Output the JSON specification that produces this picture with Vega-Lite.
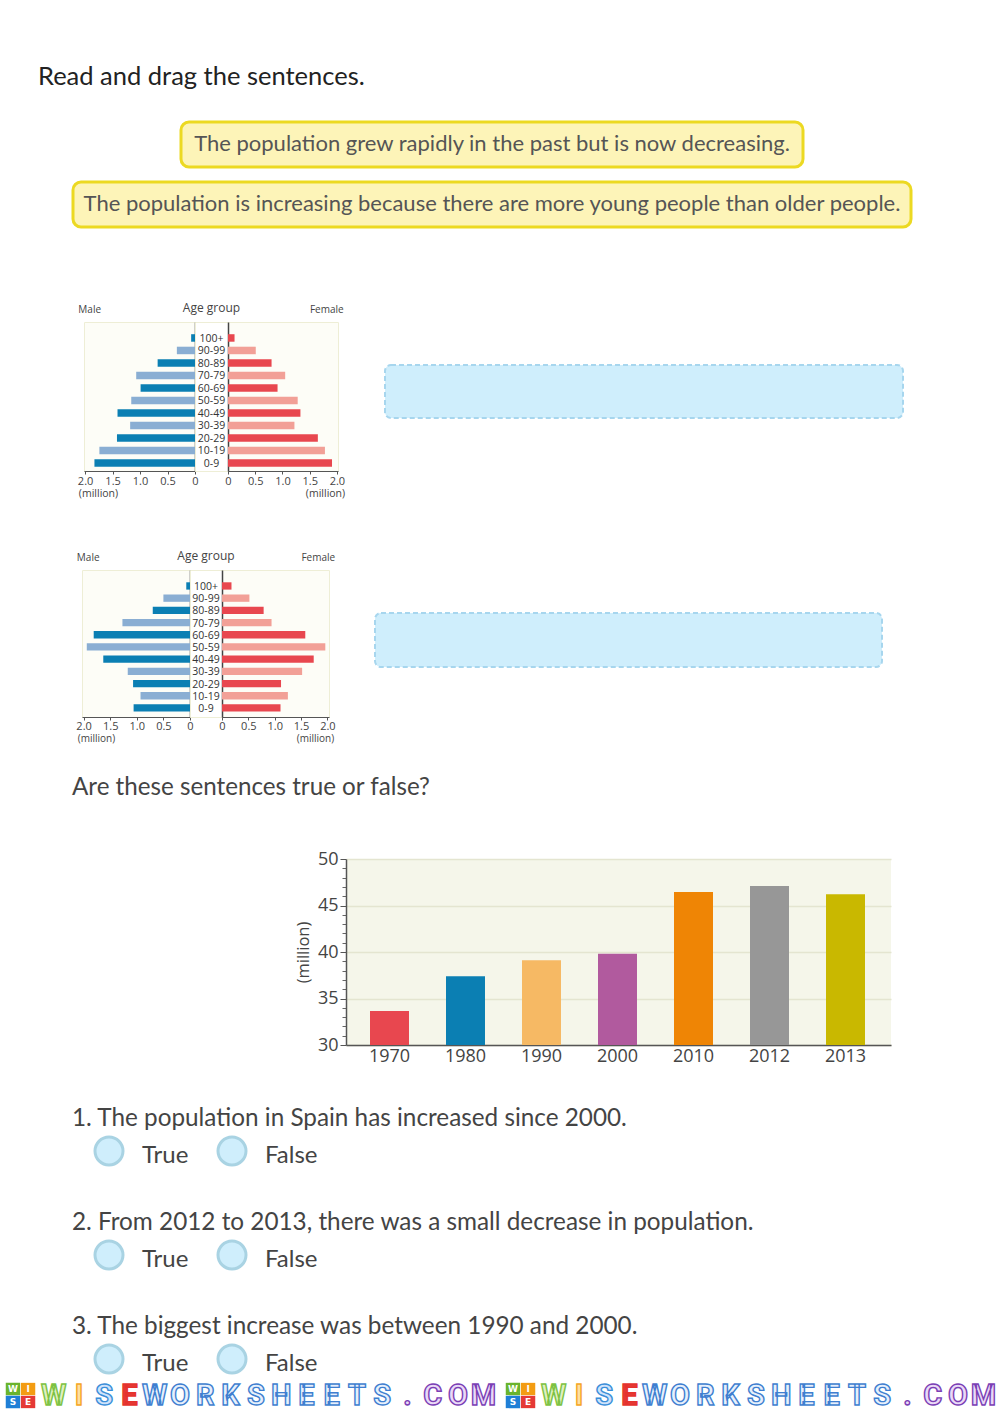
{
"$schema":"https://vega.github.io/schema/vega-lite/v6.json",
"padding":0,"background":"#ffffff","bounds":"full","spacing":0,
"config":{"view":{"stroke":null},"concat":{"spacing":0},"font":"Open Sans"},
"datasets":{
"pyr1":[
{"age":"100+","shade":"dark","male":0.07,"female":0.12},
{"age":"90-99","shade":"light","male":0.33,"female":0.51},
{"age":"80-89","shade":"dark","male":0.68,"female":0.80},
{"age":"70-79","shade":"light","male":1.07,"female":1.05},
{"age":"60-69","shade":"dark","male":0.99,"female":0.91},
{"age":"50-59","shade":"light","male":1.16,"female":1.28},
{"age":"40-49","shade":"dark","male":1.41,"female":1.33},
{"age":"30-39","shade":"light","male":1.18,"female":1.22},
{"age":"20-29","shade":"dark","male":1.42,"female":1.65},
{"age":"10-19","shade":"light","male":1.74,"female":1.78},
{"age":"0-9","shade":"dark","male":1.83,"female":1.91}],
"pyr2":[
{"age":"100+","shade":"dark","male":0.07,"female":0.18},
{"age":"90-99","shade":"light","male":0.50,"female":0.52},
{"age":"80-89","shade":"dark","male":0.70,"female":0.79},
{"age":"70-79","shade":"light","male":1.27,"female":0.94},
{"age":"60-69","shade":"dark","male":1.81,"female":1.58},
{"age":"50-59","shade":"light","male":1.94,"female":1.96},
{"age":"40-49","shade":"dark","male":1.63,"female":1.74},
{"age":"30-39","shade":"light","male":1.17,"female":1.52},
{"age":"20-29","shade":"dark","male":1.07,"female":1.12},
{"age":"10-19","shade":"light","male":0.93,"female":1.25},
{"age":"0-9","shade":"dark","male":1.06,"female":1.11}],
"spain":[
{"year":"1970","pop":33.66},{"year":"1980","pop":37.4},{"year":"1990","pop":39.1},{"year":"2000","pop":39.8},{"year":"2010","pop":46.45},{"year":"2012","pop":47.1},{"year":"2013","pop":46.2}],
"logo":[{"col":"a","row":"a","ch":"W","tone":"green"},{"col":"b","row":"a","ch":"I","tone":"orange"},{"col":"a","row":"b","ch":"S","tone":"blue"},{"col":"b","row":"b","ch":"E","tone":"red"}],
"word":[
{"pos":1,"ch":"W","tone":"green"},{"pos":2,"ch":"I","tone":"orange"},{"pos":3,"ch":"S","tone":"blue"},{"pos":4,"ch":"E","tone":"red"},
{"pos":5,"ch":"W","tone":"azure"},{"pos":6,"ch":"O","tone":"azure"},{"pos":7,"ch":"R","tone":"azure"},{"pos":8,"ch":"K","tone":"azure"},{"pos":9,"ch":"S","tone":"azure"},{"pos":10,"ch":"H","tone":"azure"},{"pos":11,"ch":"E","tone":"azure"},{"pos":12,"ch":"E","tone":"azure"},{"pos":13,"ch":"T","tone":"azure"},{"pos":14,"ch":"S","tone":"azure"},{"pos":15,"ch":".","tone":"violet"},{"pos":16,"ch":"C","tone":"violet"},{"pos":17,"ch":"O","tone":"violet"},{"pos":18,"ch":"M","tone":"violet"}]
},
"vconcat":[
{"width":10,"height":61,"data":{"values":[]},"mark":"text"},
{"hconcat":[
 {"width":38,"height":32,"data":{"values":[]},"mark":"text"},
 {"width":500,"height":32,"data":{"values":[{"t":"Read and drag the sentences."}]},"mark":{"type":"text","align":"left","font":"Lato","fontSize":25.5,"color":"#222222"},"encoding":{"text":{"field":"t"},"x":{"value":0}}}
],"bounds":"flush","spacing":0},
{"width":10,"height":27,"data":{"values":[]},"mark":"text"},
{"hconcat":[
 {"width":181,"height":46,"data":{"values":[]},"mark":"text"},
 {"width":622,"height":45,"view":{"fill":"#fdf4b8","stroke":"#ecd922","strokeWidth":3,"cornerRadius":8},"data":{"values":[{"t":"The population grew rapidly in the past but is now decreasing."}]},"mark":{"type":"text","font":"Lato","fontSize":22,"color":"#555555","dy":-1},"encoding":{"text":{"field":"t"}}}
],"bounds":"flush","spacing":0},
{"width":10,"height":11,"data":{"values":[]},"mark":"text"},
{"hconcat":[
 {"width":73,"height":46,"data":{"values":[]},"mark":"text"},
 {"width":838,"height":45,"view":{"fill":"#fdf4b8","stroke":"#ecd922","strokeWidth":3,"cornerRadius":8},"data":{"values":[{"t":"The population is increasing because there are more young people than older people."}]},"mark":{"type":"text","font":"Lato","fontSize":22,"color":"#555555","dy":-1},"encoding":{"text":{"field":"t"}}}
],"bounds":"flush","spacing":0},
{"width":10,"height":72,"data":{"values":[]},"mark":"text"},
{"hconcat":[
 {"width":84,"height":149,"data":{"values":[]},"mark":"text"},
 {"width":111,"height":149,"view":{"fill":"#fdfdf7","stroke":"#eeeed6"},"data":{"name":"pyr1"},
  "title":{"text":"Male","anchor":"start","fontSize":10,"fontWeight":"normal","color":"#444444","dx":1,"offset":7},
  "mark":{"type":"bar"},
  "encoding":{
   "x":{"field":"male","type":"quantitative","scale":{"domain":[2.02,0]},"axis":{"values":[2,1.5,1,0.5,0],"labelExpr":"datum.value==0?'0':format(datum.value,'.1f')","labelFlush":false,"labelOverlap":false,"grid":false,"domainColor":"#555555","tickColor":"#555555","tickSize":3,"labelFontSize":11,"labelColor":"#444444","labelPadding":1,"title":"(million)","titleFontSize":10.5,"titleFontWeight":"normal","titleColor":"#444444","titleX":14,"titleY":22,"titleBaseline":"middle"}},
   "y":{"field":"age","type":"nominal","sort":null,"scale":{"paddingInner":0.4,"paddingOuter":0.66,"align":0.74},"axis":{"orient":"right","labels":false,"ticks":false,"title":null,"domainColor":"#444444","domainWidth":1.5,"grid":false}},
   "color":{"field":"shade","type":"nominal","scale":{"domain":["dark","light"],"range":["#0b7fb3","#8aaed3"]},"legend":null}}},
 {"width":33,"height":149,"view":{"fill":"#ffffff","stroke":"#eeeed6"},"data":{"name":"pyr1"},
  "title":{"text":"Age group","anchor":"middle","fontSize":12,"fontWeight":"normal","color":"#444444","offset":7},
  "mark":{"type":"text","fontSize":10.5,"color":"#333333","dy":1},
  "encoding":{"text":{"field":"age"},"y":{"field":"age","type":"nominal","sort":null,"scale":{"type":"band","paddingInner":0.4,"paddingOuter":0.66,"align":0.74},"axis":null}}},
 {"width":110,"height":149,"view":{"fill":"#fdfdf7","stroke":"#eeeed6"},"data":{"name":"pyr1"},
  "title":{"text":"Female","anchor":"end","fontSize":10,"fontWeight":"normal","color":"#444444","dx":-1,"offset":7},
  "mark":{"type":"bar"},
  "encoding":{
   "x":{"field":"female","type":"quantitative","scale":{"domain":[0,2.02]},"axis":{"values":[0,0.5,1,1.5,2],"labelExpr":"datum.value==0?'0':format(datum.value,'.1f')","labelFlush":false,"labelOverlap":false,"grid":false,"domainColor":"#555555","tickColor":"#555555","tickSize":3,"labelFontSize":11,"labelColor":"#444444","labelPadding":1,"title":"(million)","titleFontSize":10.5,"titleFontWeight":"normal","titleColor":"#444444","titleX":97,"titleY":22,"titleBaseline":"middle"}},
   "y":{"field":"age","type":"nominal","sort":null,"scale":{"paddingInner":0.4,"paddingOuter":0.66,"align":0.74},"axis":{"orient":"left","labels":false,"ticks":false,"title":null,"domainColor":"#444444","domainWidth":1.5,"grid":false}},
   "color":{"field":"shade","type":"nominal","scale":{"domain":["dark","light"],"range":["#e8474f","#f2a097"]},"legend":null}}},
 {"width":47,"height":149,"data":{"values":[]},"mark":"text"},
 {"vconcat":[
  {"width":10,"height":43,"data":{"values":[]},"mark":"text"},
  {"width":518,"height":53,"view":{"fill":"#cfeefc","stroke":"#a7d6ee","strokeWidth":2,"strokeDash":[5,3],"cornerRadius":6},"data":{"values":[]},"mark":"text"}
 ],"bounds":"flush","spacing":0}
],"resolve":{"scale":{"color":"independent"}},"bounds":"flush","spacing":0},
{"width":10,"height":50,"data":{"values":[]},"mark":"text"},
{"hconcat":[
 {"width":82,"height":147,"data":{"values":[]},"mark":"text"},
 {"width":108,"height":147,"view":{"fill":"#fdfdf7","stroke":"#eeeed6"},"data":{"name":"pyr2"},
  "title":{"text":"Male","anchor":"start","fontSize":10,"fontWeight":"normal","color":"#444444","dx":1,"offset":7},
  "mark":{"type":"bar"},
  "encoding":{
   "x":{"field":"male","type":"quantitative","scale":{"domain":[2.03,0]},"axis":{"values":[2,1.5,1,0.5,0],"labelExpr":"datum.value==0?'0':format(datum.value,'.1f')","labelFlush":false,"labelOverlap":false,"grid":false,"domainColor":"#555555","tickColor":"#555555","tickSize":3,"labelFontSize":11,"labelColor":"#444444","labelPadding":0,"title":"(million)","titleFontSize":10,"titleFontWeight":"normal","titleColor":"#444444","titleX":14,"titleY":21,"titleBaseline":"middle"}},
   "y":{"field":"age","type":"nominal","sort":null,"scale":{"paddingInner":0.4,"paddingOuter":0.725,"align":0.695},"axis":{"orient":"right","labels":false,"ticks":false,"title":null,"domainColor":"#444444","domainWidth":1.5,"grid":false}},
   "color":{"field":"shade","type":"nominal","scale":{"domain":["dark","light"],"range":["#0b7fb3","#8aaed3"]},"legend":null}}},
 {"width":32,"height":147,"view":{"fill":"#ffffff","stroke":"#eeeed6"},"data":{"name":"pyr2"},
  "title":{"text":"Age group","anchor":"middle","fontSize":12,"fontWeight":"normal","color":"#444444","offset":7},
  "mark":{"type":"text","fontSize":10.5,"color":"#333333","dy":1},
  "encoding":{"text":{"field":"age"},"y":{"field":"age","type":"nominal","sort":null,"scale":{"type":"band","paddingInner":0.4,"paddingOuter":0.725,"align":0.695},"axis":null}}},
 {"width":107,"height":147,"view":{"fill":"#fdfdf7","stroke":"#eeeed6"},"data":{"name":"pyr2"},
  "title":{"text":"Female","anchor":"end","fontSize":10,"fontWeight":"normal","color":"#444444","dx":0,"offset":7},
  "mark":{"type":"bar"},
  "encoding":{
   "x":{"field":"female","type":"quantitative","scale":{"domain":[0,2.03]},"axis":{"values":[0,0.5,1,1.5,2],"labelExpr":"datum.value==0?'0':format(datum.value,'.1f')","labelFlush":false,"labelOverlap":false,"grid":false,"domainColor":"#555555","tickColor":"#555555","tickSize":3,"labelFontSize":11,"labelColor":"#444444","labelPadding":0,"title":"(million)","titleFontSize":10,"titleFontWeight":"normal","titleColor":"#444444","titleX":93,"titleY":21,"titleBaseline":"middle"}},
   "y":{"field":"age","type":"nominal","sort":null,"scale":{"paddingInner":0.4,"paddingOuter":0.725,"align":0.695},"axis":{"orient":"left","labels":false,"ticks":false,"title":null,"domainColor":"#444444","domainWidth":1.5,"grid":false}},
   "color":{"field":"shade","type":"nominal","scale":{"domain":["dark","light"],"range":["#e8474f","#f2a097"]},"legend":null}}},
 {"width":46,"height":147,"data":{"values":[]},"mark":"text"},
 {"vconcat":[
  {"width":10,"height":43,"data":{"values":[]},"mark":"text"},
  {"width":507,"height":54,"view":{"fill":"#cfeefc","stroke":"#a7d6ee","strokeWidth":2,"strokeDash":[5,3],"cornerRadius":6},"data":{"values":[]},"mark":"text"}
 ],"bounds":"flush","spacing":0}
],"resolve":{"scale":{"color":"independent"}},"bounds":"flush","spacing":0},
{"width":10,"height":29,"data":{"values":[]},"mark":"text"},
{"hconcat":[
 {"width":72,"height":30,"data":{"values":[]},"mark":"text"},
 {"width":600,"height":30,"data":{"values":[{"t":"Are these sentences true or false?"}]},"mark":{"type":"text","align":"left","font":"Lato","fontSize":24.2,"color":"#444444"},"encoding":{"text":{"field":"t"},"x":{"value":0}}}
],"bounds":"flush","spacing":0},
{"width":10,"height":47,"data":{"values":[]},"mark":"text"},
{"hconcat":[
 {"width":346,"height":186,"data":{"values":[]},"mark":"text"},
 {"width":545,"height":186,"view":{"fill":"#f5f6ea","stroke":null},"data":{"name":"spain"},
  "layer":[
  {"mark":{"type":"bar","clip":true,"opacity":0},
  "encoding":{
   "x":{"field":"year","type":"nominal","sort":null,"scale":{"paddingInner":0.487,"paddingOuter":0.329,"align":0.48},"axis":{"labelAngle":0,"ticks":false,"title":null,"domainColor":"#555555","domainWidth":1.5,"labelFontSize":18,"labelColor":"#444444","labelPadding":2}},
   "y":{"field":"pop","type":"quantitative","scale":{"domain":[30,50]},"axis":{"orient":"left","values":[31,32,33,34,36,37,38,39,41,42,43,44,46,47,48,49],"labels":false,"grid":false,"domain":false,"title":null,"tickColor":"#666666","tickSize":4,"tickWidth":1}}}},
  {"mark":{"type":"bar","clip":true},
  "encoding":{
   "x":{"field":"year","type":"nominal","sort":null},
   "y":{"field":"pop","type":"quantitative","axis":{"orient":"left","values":[30,35,40,45,50],"grid":true,"gridColor":"#e4e5d0","gridWidth":1.5,"domainColor":"#555555","domainWidth":1.5,"tickColor":"#555555","tickSize":6,"labelFontSize":18,"labelColor":"#444444","labelPadding":2,"title":"(million)","titleFontSize":16.5,"titleFontWeight":"normal","titleColor":"#444444","titlePadding":6}},
   "color":{"field":"year","type":"nominal","sort":null,"scale":{"domain":["1970","1980","1990","2000","2010","2012","2013"],"range":["#e8474f","#0b7fb3","#f6b964","#b15a9e","#ef8505","#979797","#c9b800"]},"legend":null}}}
  ],
  "resolve":{"axis":{"y":"independent"}}}
],"bounds":"flush","spacing":0},
{"width":10,"height":39,"data":{"values":[]},"mark":"text"},
{"hconcat":[
 {"width":72,"height":30,"data":{"values":[]},"mark":"text"},
 {"width":800,"height":30,"data":{"values":[{"t":"1. The population in Spain has increased since 2000."}]},"mark":{"type":"text","align":"left","font":"Lato","fontSize":24.3,"color":"#444444"},"encoding":{"text":{"field":"t"},"x":{"value":0}}}
],"bounds":"flush","spacing":0},
{"width":10,"height":1,"data":{"values":[]},"mark":"text"},
{"hconcat":[
 {"width":95,"height":36,"data":{"values":[]},"mark":"text"},
 {"width":28,"height":28,"view":{"fill":"#cfeefc","stroke":"#a9d3e3","strokeWidth":3,"cornerRadius":14},"data":{"values":[]},"mark":"text"},
 {"width":19,"height":36,"data":{"values":[]},"mark":"text"},
 {"width":76,"height":36,"data":{"values":[{"t":"True"}]},"mark":{"type":"text","align":"left","font":"Lato","fontSize":24,"color":"#444444","dy":1},"encoding":{"text":{"field":"t"},"x":{"value":0}}},
 {"width":28,"height":28,"view":{"fill":"#cfeefc","stroke":"#a9d3e3","strokeWidth":3,"cornerRadius":14},"data":{"values":[]},"mark":"text"},
 {"width":19,"height":36,"data":{"values":[]},"mark":"text"},
 {"width":100,"height":36,"data":{"values":[{"t":"False"}]},"mark":{"type":"text","align":"left","font":"Lato","fontSize":24,"color":"#444444","dy":1},"encoding":{"text":{"field":"t"},"x":{"value":0}}}
],"bounds":"flush","spacing":0},
{"width":10,"height":35,"data":{"values":[]},"mark":"text"},
{"hconcat":[
 {"width":72,"height":30,"data":{"values":[]},"mark":"text"},
 {"width":800,"height":30,"data":{"values":[{"t":"2. From 2012 to 2013, there was a small decrease in population."}]},"mark":{"type":"text","align":"left","font":"Lato","fontSize":24.3,"color":"#444444"},"encoding":{"text":{"field":"t"},"x":{"value":0}}}
],"bounds":"flush","spacing":0},
{"width":10,"height":1,"data":{"values":[]},"mark":"text"},
{"hconcat":[
 {"width":95,"height":36,"data":{"values":[]},"mark":"text"},
 {"width":28,"height":28,"view":{"fill":"#cfeefc","stroke":"#a9d3e3","strokeWidth":3,"cornerRadius":14},"data":{"values":[]},"mark":"text"},
 {"width":19,"height":36,"data":{"values":[]},"mark":"text"},
 {"width":76,"height":36,"data":{"values":[{"t":"True"}]},"mark":{"type":"text","align":"left","font":"Lato","fontSize":24,"color":"#444444","dy":1},"encoding":{"text":{"field":"t"},"x":{"value":0}}},
 {"width":28,"height":28,"view":{"fill":"#cfeefc","stroke":"#a9d3e3","strokeWidth":3,"cornerRadius":14},"data":{"values":[]},"mark":"text"},
 {"width":19,"height":36,"data":{"values":[]},"mark":"text"},
 {"width":100,"height":36,"data":{"values":[{"t":"False"}]},"mark":{"type":"text","align":"left","font":"Lato","fontSize":24,"color":"#444444","dy":1},"encoding":{"text":{"field":"t"},"x":{"value":0}}}
],"bounds":"flush","spacing":0},
{"width":10,"height":35,"data":{"values":[]},"mark":"text"},
{"hconcat":[
 {"width":72,"height":30,"data":{"values":[]},"mark":"text"},
 {"width":800,"height":30,"data":{"values":[{"t":"3. The biggest increase was between 1990 and 2000."}]},"mark":{"type":"text","align":"left","font":"Lato","fontSize":24.3,"color":"#444444"},"encoding":{"text":{"field":"t"},"x":{"value":0}}}
],"bounds":"flush","spacing":0},
{"width":10,"height":1,"data":{"values":[]},"mark":"text"},
{"hconcat":[
 {"width":95,"height":32,"data":{"values":[]},"mark":"text"},
 {"width":28,"height":28,"view":{"fill":"#cfeefc","stroke":"#a9d3e3","strokeWidth":3,"cornerRadius":14},"data":{"values":[]},"mark":"text"},
 {"width":19,"height":32,"data":{"values":[]},"mark":"text"},
 {"width":76,"height":32,"data":{"values":[{"t":"True"}]},"mark":{"type":"text","align":"left","font":"Lato","fontSize":24,"color":"#444444","dy":3},"encoding":{"text":{"field":"t"},"x":{"value":0}}},
 {"width":28,"height":28,"view":{"fill":"#cfeefc","stroke":"#a9d3e3","strokeWidth":3,"cornerRadius":14},"data":{"values":[]},"mark":"text"},
 {"width":19,"height":32,"data":{"values":[]},"mark":"text"},
 {"width":100,"height":32,"data":{"values":[{"t":"False"}]},"mark":{"type":"text","align":"left","font":"Lato","fontSize":24,"color":"#444444","dy":3},"encoding":{"text":{"field":"t"},"x":{"value":0}}}
],"bounds":"flush","spacing":0},
{"hconcat":[
 {"width":5,"height":37,"data":{"values":[]},"mark":"text"},
 {"width":31,"height":37,"data":{"name":"logo"},"layer":[
  {"mark":{"type":"rect"},"encoding":{"x":{"field":"col","type":"nominal","axis":null,"scale":{"padding":0.05}},"y":{"field":"row","type":"nominal","axis":null,"scale":{"paddingInner":0.05,"paddingOuter":0.45}},"color":{"field":"tone","type":"nominal","scale":{"domain":["green","orange","blue","red"],"range":["#6ab42d","#f39c12","#1f7fd6","#e53935"]},"legend":null}}},
  {"mark":{"type":"text","font":"DejaVu Sans","fontWeight":"bold","fontSize":9,"color":"#ffffff"},"encoding":{"x":{"field":"col","type":"nominal","axis":null},"y":{"field":"row","type":"nominal","axis":null},"text":{"field":"ch"}}}
 ]},
 {"width":5,"height":37,"data":{"values":[]},"mark":"text"},
 {"width":455,"height":37,"data":{"name":"word"},"mark":{"type":"text","font":"Roboto","fontWeight":"bold","fontSize":29,"strokeWidth":1.4},"encoding":{"x":{"field":"pos","type":"ordinal","axis":null,"scale":{"type":"band","padding":0}},"text":{"field":"ch"},"fill":{"field":"tone","type":"nominal","scale":{"domain":["green","orange","blue","red","azure","violet"],"range":["#dff0c0","#fde0a0","#cfe3fb","#e53935","#e6f0fc","#ead9f7"]},"legend":null},"stroke":{"field":"tone","type":"nominal","scale":{"domain":["green","orange","blue","red","azure","violet"],"range":["#7dc242","#f6a623","#3b8fd9","#e5322d","#3f7fd0","#7b3fb5"]},"legend":null}}},
 {"width":9,"height":37,"data":{"values":[]},"mark":"text"},
 {"width":31,"height":37,"data":{"name":"logo"},"layer":[
  {"mark":{"type":"rect"},"encoding":{"x":{"field":"col","type":"nominal","axis":null,"scale":{"padding":0.05}},"y":{"field":"row","type":"nominal","axis":null,"scale":{"paddingInner":0.05,"paddingOuter":0.45}},"color":{"field":"tone","type":"nominal","scale":{"domain":["green","orange","blue","red"],"range":["#6ab42d","#f39c12","#1f7fd6","#e53935"]},"legend":null}}},
  {"mark":{"type":"text","font":"DejaVu Sans","fontWeight":"bold","fontSize":9,"color":"#ffffff"},"encoding":{"x":{"field":"col","type":"nominal","axis":null},"y":{"field":"row","type":"nominal","axis":null},"text":{"field":"ch"}}}
 ]},
 {"width":5,"height":37,"data":{"values":[]},"mark":"text"},
 {"width":455,"height":37,"data":{"name":"word"},"mark":{"type":"text","font":"Roboto","fontWeight":"bold","fontSize":29,"strokeWidth":1.4},"encoding":{"x":{"field":"pos","type":"ordinal","axis":null,"scale":{"type":"band","padding":0}},"text":{"field":"ch"},"fill":{"field":"tone","type":"nominal","scale":{"domain":["green","orange","blue","red","azure","violet"],"range":["#dff0c0","#fde0a0","#cfe3fb","#e53935","#e6f0fc","#ead9f7"]},"legend":null},"stroke":{"field":"tone","type":"nominal","scale":{"domain":["green","orange","blue","red","azure","violet"],"range":["#7dc242","#f6a623","#3b8fd9","#e5322d","#3f7fd0","#7b3fb5"]},"legend":null}}}
],"resolve":{"scale":{"color":"independent","fill":"independent","stroke":"independent"}},"bounds":"flush","spacing":0}
],
"resolve":{"scale":{"color":"independent","x":"independent","y":"independent"}}
}
